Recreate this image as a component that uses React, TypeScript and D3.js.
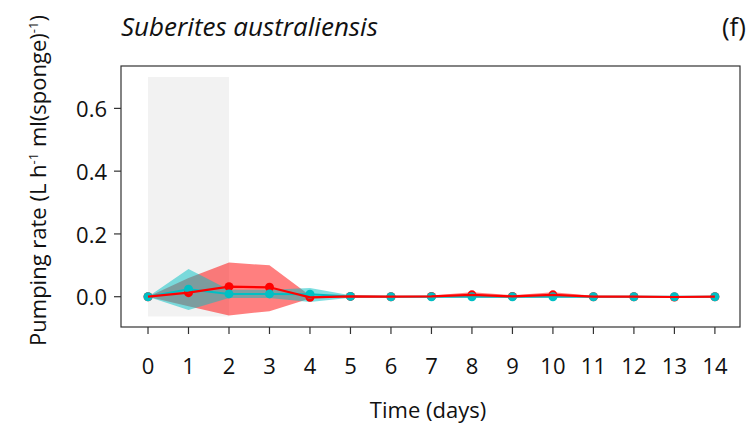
import React from "react";
import * as d3 from "d3";

const days = [0, 1, 2, 3, 4, 5, 6, 7, 8, 9, 10, 11, 12, 13, 14];
const redMean = [0, 0.013, 0.032, 0.03, -0.002, 0.001, 0, 0.001, 0.006, 0.001, 0.006, 0, 0, -0.001, 0];
const redLow = [0, -0.03, -0.06, -0.046, -0.006, -0.002, -0.002, -0.002, -0.002, -0.003, -0.002, -0.002, -0.002, -0.003, -0.002];
const redHigh = [0, 0.06, 0.109, 0.1, 0.004, 0.003, 0.002, 0.004, 0.014, 0.005, 0.014, 0.003, 0.002, 0.001, 0.002];
const cyanMean = [0, 0.024, 0.009, 0.009, 0.008, 0.001, 0, 0, 0, 0, 0, 0, 0, 0, 0];
const cyanLow = [0, -0.042, -0.004, -0.004, -0.017, -0.003, -0.002, -0.002, -0.002, -0.002, -0.002, -0.002, -0.002, -0.002, -0.002];
const cyanHigh = [0, 0.088, 0.022, 0.022, 0.028, 0.005, 0.002, 0.002, 0.002, 0.002, 0.002, 0.002, 0.002, 0.002, 0.002];
const yTicks = [0, 0.2, 0.4, 0.6];
const shade = { from: 0, to: 2, low: -0.063, high: 0.7 };

const W = 753, H = 426;
const panel = { left: 121, right: 740, top: 66, bottom: 327 };
const font = "'Open Sans', sans-serif";

export default function App() {
  const x = d3.scaleLinear().domain([-0.667, 14.62]).range([panel.left, panel.right]);
  const y = d3.scaleLinear().domain([-0.0965, 0.735]).range([panel.bottom, panel.top]);

  const area = (lo: number[], hi: number[]) =>
    d3.area<number>().x((d) => x(d)).y0((_, i) => y(lo[i])).y1((_, i) => y(hi[i]))(days) || "";
  const line = (m: number[]) => d3.line<number>().x((d) => x(d)).y((_, i) => y(m[i]))(days) || "";

  return (
    <svg width={W} height={H} style={{ position: "absolute", left: 0, top: 0 }}>
      <rect x={0} y={0} width={W} height={H} fill="#fff" />
      <text x={121} y={36} fontFamily={font} fontStyle="italic" fontSize={26} fill="#111">Suberites australiensis</text>
      <text x={746} y={36} textAnchor="end" fontFamily={font} fontSize={26} fill="#111">(f)</text>

      <rect x={x(shade.from)} y={y(shade.high)} width={x(shade.to) - x(shade.from)}
        height={y(shade.low) - y(shade.high)} fill="#f2f2f2" />

      <path d={area(redLow, redHigh)} fill="#f00" fillOpacity={0.5} />
      <path d={area(cyanLow, cyanHigh)} fill="#00BFC4" fillOpacity={0.5} />
      <path d={line(cyanMean)} fill="none" stroke="#00BFC4" strokeWidth={2} />
      {days.map((d, i) => (
        <circle key={"r" + d} cx={x(d)} cy={y(redMean[i])} r={4.5} fill="#f00" />
      ))}
      {days.map((d, i) => (
        <circle key={"c" + d} cx={x(d)} cy={y(cyanMean[i])} r={4.5} fill="#00BFC4" />
      ))}
      <path d={line(redMean)} fill="none" stroke="#f00" strokeWidth={2.2} />

      <rect x={panel.left} y={panel.top} width={panel.right - panel.left} height={panel.bottom - panel.top}
        fill="none" stroke="#333" strokeWidth={1.2} />

      {yTicks.map((t) => (
        <g key={t}>
          <line x1={panel.left - 7} x2={panel.left} y1={y(t)} y2={y(t)} stroke="#333" strokeWidth={1.2} />
          <text x={panel.left - 14} y={y(t) + 1} dy="0.35em" textAnchor="end" fontFamily={font} fontSize={22} fill="#111">
            {t.toFixed(1)}
          </text>
        </g>
      ))}
      {days.map((d) => (
        <g key={d}>
          <line x1={x(d)} x2={x(d)} y1={panel.bottom} y2={panel.bottom + 7} stroke="#333" strokeWidth={1.2} />
          <text x={x(d)} y={panel.bottom + 47} textAnchor="middle" fontFamily={font} fontSize={22} fill="#111">{d}</text>
        </g>
      ))}

      <text x={428} y={418} textAnchor="middle" fontFamily={font} fontSize={22} fill="#111">Time (days)</text>
      <text transform={`translate(46,${(panel.top + panel.bottom) / 2 - 16}) rotate(-90)`} textAnchor="middle"
        fontFamily={font} fontSize={22} fill="#111">
        Pumping rate (L h<tspan dy={-8} fontSize={13}>-1</tspan><tspan dy={8}> ml(sponge)</tspan>
        <tspan dy={-8} fontSize={13}>-1</tspan><tspan dy={8}>)</tspan>
      </text>
    </svg>
  );
}
